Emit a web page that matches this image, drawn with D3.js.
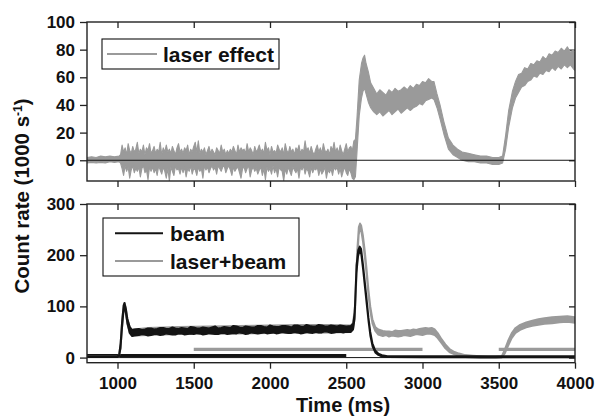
<!DOCTYPE html>
<html>
<head>
<meta charset="utf-8">
<script src="https://cdn.jsdelivr.net/npm/d3@7"></script>
<style>
  body { margin: 0; background: #fff; }
  svg { font-family: "Liberation Sans", Arial, sans-serif; font-weight: bold; }
</style>
</head>
<body>
<div id="chart"></div>
<script>
const width = 596;
const height = 419;
const grey = "#9a9a9a";
const black = "#141414";

const xTicks = [1000, 1500, 2000, 2500, 3000, 3500, 4000];
const topTicks = [0, 20, 40, 60, 80, 100];
const bottomTicks = [0, 100, 200, 300];

// noisy traces as [time (ms), lower edge, upper edge]
const laserEffect = [
  [800,-2,2],[830,-1.5,2.5],[860,-2,2],[890,-1.5,3],[920,-2,2.5],[950,-1,3],[980,-1.5,2.5],[1010,-1,3],[1020,-2,4],
  [1030,-6,11],[1040,-11,6],[1050,-4,9],[1060,-8,4],[1070,-5,12],[1080,-13,7],[1090,-7,5],[1100,-4,10],[1110,-9,6],[1120,-6,8],
  [1130,-8,13],[1140,-5,5],[1150,-12,8],[1160,-6,6],[1170,-4,11],[1180,-9,4],[1190,-7,9],[1200,-14,7],[1210,-5,12],[1220,-8,5],
  [1230,-5,7],[1240,-9,10],[1250,-6,5],[1260,-11,8],[1270,-4,6],[1280,-7,13],[1290,-10,4],[1300,-5,9],[1310,-8,6],[1320,-13,11],
  [1330,-6,6],[1340,-15,8],[1350,-5,5],[1360,-8,10],[1370,-11,7],[1380,-4,4],[1390,-7,9],[1400,-6,12],[1410,-10,6],[1420,-5,8],
  [1430,-9,5],[1440,-5,9],[1450,-12,7],[1460,-6,11],[1470,-8,4],[1480,-4,8],[1490,-10,6],[1500,-6,10],[1510,-7,13],[1520,-11,6],
  [1530,-5,14],[1540,-8,5],[1550,-6,8],[1560,-13,6],[1570,-4,9],[1580,-7,4],[1590,-5,7],[1600,-9,10],[1610,-6,5],[1620,-4,8],
  [1630,-7,6],[1640,-5,4],[1650,-10,9],[1660,-4,7],[1670,-6,5],[1680,-8,11],[1690,-5,6],[1700,-4,8],[1710,-9,4],[1720,-6,7],
  [1730,-4,5],[1740,-7,8],[1750,-11,6],[1760,-5,10],[1770,-8,7],[1780,-6,4],[1790,-5,11],[1800,-9,6],[1810,-13,9],[1820,-6,7],
  [1830,-5,8],[1840,-9,5],[1850,-6,12],[1860,-4,6],[1870,-12,9],[1880,-7,7],[1890,-5,4],[1900,-8,10],[1910,-6,6],[1920,-10,8],
  [1930,-7,11],[1940,-5,6],[1950,-11,8],[1960,-6,5],[1970,-14,13],[1980,-5,7],[1990,-8,9],[2000,-6,4],[2010,-10,10],[2020,-4,6],
  [2030,-9,7],[2040,-6,5],[2050,-12,11],[2060,-5,8],[2070,-7,6],[2080,-8,9],[2090,-15,4],[2100,-6,12],[2110,-10,7],[2120,-5,5],
  [2130,-8,10],[2140,-11,6],[2150,-5,8],[2160,-7,4],[2170,-9,9],[2180,-6,7],[2190,-13,11],[2200,-5,5],[2210,-7,8],[2220,-4,6],
  [2230,-10,14],[2240,-6,7],[2250,-8,9],[2260,-12,5],[2270,-5,10],[2280,-9,6],[2290,-6,4],[2300,-7,8],[2310,-5,11],[2320,-11,6],
  [2330,-6,9],[2340,-10,5],[2350,-8,12],[2360,-5,7],[2370,-13,6],[2380,-7,8],[2390,-9,4],[2400,-6,10],[2410,-11,7],[2420,-5,13],
  [2430,-7,6],[2440,-5,9],[2450,-10,5],[2460,-6,11],[2470,-12,7],[2480,-8,4],[2490,-5,8],[2500,-9,12],[2510,-11,6],[2520,-6,9],
  [2530,-9,10],[2540,-13,7],[2550,-14,14],
  [2560,-12,15],[2570,5,30],[2585,32,58],[2600,45,70],[2610,50,74],[2620,52,76],[2630,48,70],[2645,42,64],
  [2660,38,56],[2680,35,52],[2700,33,48],[2720,35,51],[2740,32,49],[2760,34,47],[2780,36,51],[2800,33,49],
  [2820,35,52],[2840,37,50],[2860,34,51],[2880,36,53],[2900,38,51],[2920,36,54],[2940,38,52],[2960,39,55],
  [2980,41,54],[3000,40,57],[3020,43,56],[3040,44,59],[3060,45,57],[3075,44,57],
  [3095,38,48],[3115,30,40],[3140,19,28],[3170,8,16],[3200,4,11],[3230,2,8],[3260,0,6],[3300,-1,5],
  [3340,-1,4],[3380,-2,3],[3420,-2,3],[3460,-3,2],[3500,-3,2],[3525,-2,3],[3545,8,18],[3565,24,36],
  [3590,38,50],[3610,45,57],[3630,49,62],[3650,53,63],[3670,54,67],[3690,57,66],[3710,58,70],[3730,61,69],
  [3750,60,72],[3770,63,71],[3790,62,75],[3810,65,73],[3830,64,77],[3850,67,76],[3870,65,79],[3890,68,78],
  [3910,66,81],[3930,69,79],[3950,67,82],[3970,69,78],[3990,66,80],[4000,65,77]
];

const beam = [
  [800,1,3],[900,1,3],[1000,1,3],[1010,2,5],[1020,18,28],[1030,58,72],[1040,92,102],[1046,100,107],
  [1055,86,96],[1065,66,76],[1080,48,60],[1095,42,54],[1110,43,55],
  [1140,44,56],[1160,46,54],[1180,45,55],[1200,43,57],[1220,44,57],[1240,46,55],[1260,46,56],[1280,44,58],
  [1300,45,58],[1320,47,56],[1340,46,56],[1360,45,59],[1380,45,57],[1400,47,56],[1420,47,58],[1440,45,57],
  [1460,46,56],[1480,47,60],[1500,46,59],[1520,48,57],[1540,47,57],[1560,45,59],[1580,46,58],[1600,48,57],
  [1620,47,59],[1640,46,61],[1660,46,57],[1680,48,58],[1700,48,60],[1720,46,59],[1740,47,58],[1760,48,62],
  [1780,47,61],[1800,49,59],[1820,48,58],[1840,46,61],[1860,47,60],[1880,49,59],[1900,48,59],[1920,47,62],
  [1940,48,62],[1960,49,60],[1980,47,59],[2000,48,63],[2020,49,61],[2040,47,60],[2060,48,60],[2080,50,62],
  [2100,49,62],[2120,48,61],[2140,48,59],[2160,50,63],[2180,49,63],[2200,47,61],[2220,48,60],[2240,50,64],
  [2260,49,62],[2280,48,61],[2300,50,61],[2320,49,64],[2340,49,63],[2360,51,61],[2380,50,61],[2400,48,63],
  [2420,49,62],[2440,50,61],[2460,50,63],[2480,49,62],[2500,50,61],[2530,50,62],
  [2545,55,66],[2555,75,88],[2567,165,180],[2578,198,210],[2588,209,217],[2598,202,212],[2610,172,182],
  [2622,138,148],[2634,104,114],[2646,70,78],[2658,42,50],[2672,22,28],[2690,10,14],[2710,5,8],[2735,2,5],
  [2770,1,3],[3000,0.5,3],[3500,0.5,3],[4000,0.5,3]
];

const laserBeam = [
  [800,1,3],[1000,1,3],[1010,2,5],[1020,18,28],[1030,58,72],[1040,92,102],[1046,100,107],[1055,86,96],
  [1065,66,76],[1080,48,60],[1095,42,54],[1110,43,55],[1200,44,58],[1400,46,60],[1600,46,61],[1800,47,62],
  [2000,48,63],[2200,48,64],[2400,49,64],[2530,50,63],
  [2545,55,68],[2558,90,105],[2572,190,210],[2582,240,255],[2590,252,262],[2598,248,258],[2610,225,238],
  [2622,195,208],[2634,160,172],[2646,120,132],[2658,90,100],[2672,66,75],[2690,52,60],[2710,45,55],
  [2740,42,52],[2760,44,51],[2780,41,51],[2800,43,50],[2820,42,53],[2840,41,52],[2860,42,52],[2880,44,53],
  [2900,43,54],[2920,42,53],[2940,44,55],[2960,46,54],[2980,45,56],[3000,44,57],[3020,46,58],[3040,47,57],
  [3060,46,58],[3080,44,55],[3100,38,48],[3125,28,36],[3150,18,26],[3180,10,16],[3210,6,11],[3240,3,8],
  [3280,1,5],[3330,0,4],[3380,-1,3],[3430,-1,2],[3480,-1,2],[3520,0,3],[3540,8,16],[3560,22,32],
  [3585,38,48],[3610,48,58],[3640,54,64],[3680,59,69],[3720,62,72],[3760,64,75],[3800,66,77],[3850,67,79],
  [3900,69,80],[3950,70,81],[4000,68,79]
];

// periods marked under the traces: [start, end, level]
const laserBars = [[1500, 3000, 16], [3500, 4000, 16]];
const beamBars = [[800, 2500, 4]];

const svg = d3.select("#chart").append("svg")
  .attr("width", width)
  .attr("height", height);

const left = 87, right = 575;
const x = d3.scaleLinear().domain([800, 4000]).range([left, right]);

const yTop = d3.scaleLinear().domain([-15, 100]).range([181, 22]);
const yBot = d3.scaleLinear().domain([-10, 300]).range([362.7, 204]);

function band(y) {
  return d3.area()
    .x(d => x(d[0]))
    .y0(d => y(d[1]))
    .y1(d => y(d[2]));
}

function panel(y, ticks, name, showLabels) {
  const [y0, y1] = y.range();
  const g = svg.append("g");

  svg.append("clipPath").attr("id", name)
    .append("rect").attr("x", left).attr("y", y1).attr("width", right - left).attr("height", y0 - y1);

  const styleAxis = a => {
    a.select(".domain").remove();
    a.selectAll(".tick line").attr("stroke", "#222").attr("stroke-width", 1.3);
    a.selectAll("text").attr("fill", "#111").style("font-size", "17px").style("font-weight", "bold");
  };

  g.append("g").attr("transform", `translate(${left},0)`)
    .call(d3.axisLeft(y).tickValues(ticks).tickSize(7).tickPadding(5))
    .call(styleAxis)
    .selectAll("text").attr("font-family", null);
  g.append("g").attr("transform", `translate(${right},0)`)
    .call(d3.axisRight(y).tickValues(ticks).tickSize(-6).tickFormat(""))
    .call(styleAxis);
  g.append("g").attr("transform", `translate(0,${y1})`)
    .call(d3.axisTop(x).tickValues(xTicks).tickSize(-6).tickFormat(""))
    .call(styleAxis);
  g.append("g").attr("transform", `translate(0,${y0})`)
    .call(d3.axisBottom(x).tickValues(xTicks).tickSize(6).tickPadding(8)
      .tickFormat(showLabels ? d3.format("d") : ""))
    .call(styleAxis);

  const plot = g.append("g").attr("clip-path", `url(#${name})`);

  g.append("rect")
    .attr("x", left).attr("y", y1)
    .attr("width", right - left).attr("height", y0 - y1)
    .attr("fill", "none").attr("stroke", "#222").attr("stroke-width", 1.4);
  return plot;
}

function zeroLine(plot, y) {
  plot.append("line")
    .attr("x1", left).attr("x2", right)
    .attr("y1", y(0)).attr("y2", y(0))
    .attr("stroke", black).attr("stroke-width", 1);
}

// top panel: laser effect
const topPlot = panel(yTop, topTicks, "clipTop", false);
topPlot.append("path")
  .datum(laserEffect)
  .attr("d", band(yTop))
  .attr("fill", grey).attr("stroke", grey).attr("stroke-width", 1.1)
  .attr("stroke-linejoin", "round");
zeroLine(topPlot, yTop);

// bottom panel: beam and laser+beam
const botPlot = panel(yBot, bottomTicks, "clipBot", true);
zeroLine(botPlot, yBot);

botPlot.selectAll(".laser-bar")
  .data(laserBars)
  .join("line")
  .attr("x1", d => x(d[0])).attr("x2", d => x(d[1]))
  .attr("y1", d => yBot(d[2])).attr("y2", d => yBot(d[2]))
  .attr("stroke", grey).attr("stroke-width", 3.2);

botPlot.selectAll(".beam-bar")
  .data(beamBars)
  .join("line")
  .attr("x1", d => x(d[0])).attr("x2", d => x(d[1]))
  .attr("y1", d => yBot(d[2])).attr("y2", d => yBot(d[2]))
  .attr("stroke", black).attr("stroke-width", 3.2);

botPlot.append("path")
  .datum(laserBeam)
  .attr("d", band(yBot))
  .attr("fill", grey).attr("stroke", grey).attr("stroke-width", 1.8)
  .attr("stroke-linejoin", "round");

botPlot.append("path")
  .datum(beam)
  .attr("d", band(yBot))
  .attr("fill", black).attr("stroke", black).attr("stroke-width", 1.8)
  .attr("stroke-linejoin", "round");

// legends
function legend(x0, y0, w, h, items) {
  const g = svg.append("g");
  g.append("rect").attr("x", x0).attr("y", y0).attr("width", w).attr("height", h)
    .attr("fill", "#fff").attr("stroke", "#111").attr("stroke-width", 1.1);
  items.forEach(it => {
    g.append("line")
      .attr("x1", it.lx0).attr("x2", it.lx1).attr("y1", it.ly).attr("y2", it.ly)
      .attr("stroke", it.color).attr("stroke-width", 2);
    g.append("text")
      .attr("x", it.tx).attr("y", it.ly + 7.5)
      .style("font-size", "21px").attr("fill", "#111")
      .text(it.label);
  });
}

legend(102, 39, 177, 30, [
  { label: "laser effect", color: grey, lx0: 107, lx1: 157, ly: 54, tx: 163 }
]);
legend(103, 218, 196, 58, [
  { label: "beam", color: black, lx0: 115, lx1: 163, ly: 233.3, tx: 170 },
  { label: "laser+beam", color: grey, lx0: 115, lx1: 163, ly: 261, tx: 170 }
]);

// axis titles
svg.append("text")
  .attr("x", 343).attr("y", 412)
  .attr("text-anchor", "middle")
  .style("font-size", "20px").attr("fill", "#111")
  .text("Time (ms)");

const yTitle = svg.append("text")
  .attr("transform", "translate(29,196) rotate(-90)")
  .attr("text-anchor", "middle")
  .style("font-size", "20.5px").attr("fill", "#111");
yTitle.append("tspan").text("Count rate (1000 s");
yTitle.append("tspan").attr("baseline-shift", "super").style("font-size", "12px").text("-1");
yTitle.append("tspan").text(")");
</script>
</body>
</html>
